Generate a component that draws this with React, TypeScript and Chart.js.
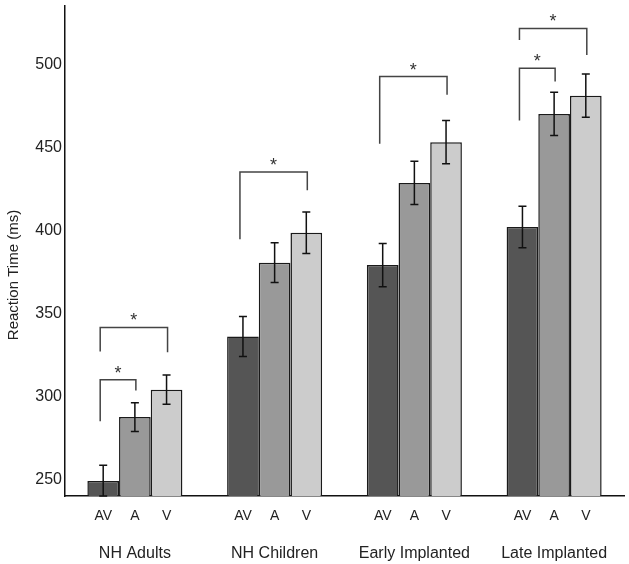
import React, { useEffect, useRef } from 'react';
import { Chart, registerables } from 'chart.js';

Chart.register(...registerables);

const groups = ['NH Adults', 'NH Children', 'Early Implanted', 'Late Implanted'];
const conditions = ['AV', 'A', 'V'];
const avMeans = [249, 336, 379, 402];
const aMeans = [287.5, 380.5, 428.5, 470];
const vMeans = [304, 398.5, 453, 481];
const avErrors = [9.5, 12, 13, 12.5];
const aErrors = [8.7, 12, 13, 13];
const vErrors = [8.8, 12.5, 13, 13];
const yTicks = [250, 300, 350, 400, 450, 500];
const yMin = 240;
const yMax = 535;
const yTitle = 'Reaction Time (ms)';

// significance brackets
const bracketGroup = [0, 0, 1, 2, 3, 3];
const bracketFrom = [0, 0, 0, 0, 0, 0];
const bracketTo = [1, 2, 2, 2, 1, 2];
const bracketLevel = [310, 341.5, 435, 492.5, 497.5, 521.5];
const bracketFromEnd = [285, 327, 394.5, 452, 466, 514.5];
const bracketToEnd = [303.5, 326.5, 424, 481.5, 489.5, 505.5];
const bracketMark = ['*', '*', '*', '*', '*', '*'];

const barColors = ['#555555', '#999999', '#cccccc'];
const FONT = '"Liberation Sans", Arial, Helvetica, sans-serif';

const overlay = {
  id: 'overlay',
  afterDatasetsDraw(chart: any) {
    const ctx = chart.ctx;
    const ys = chart.scales.y;
    const area = chart.chartArea;
    const means = [avMeans, aMeans, vMeans];
    const errs = [avErrors, aErrors, vErrors];
    ctx.save();
    // error bars
    ctx.strokeStyle = '#111111';
    ctx.lineWidth = 1.5;
    for (let d = 0; d < 3; d++) {
      const meta = chart.getDatasetMeta(d);
      meta.data.forEach((el: any, i: number) => {
        const top = ys.getPixelForValue(means[d][i] + errs[d][i]);
        const bot = Math.min(ys.getPixelForValue(means[d][i] - errs[d][i]), area.bottom);
        ctx.beginPath();
        ctx.moveTo(el.x, top);
        ctx.lineTo(el.x, bot);
        ctx.moveTo(el.x - 4, top);
        ctx.lineTo(el.x + 4, top);
        ctx.moveTo(el.x - 4, bot);
        ctx.lineTo(el.x + 4, bot);
        ctx.stroke();
      });
    }
    // brackets
    ctx.strokeStyle = '#444444';
    ctx.lineWidth = 1.5;
    ctx.fillStyle = '#333333';
    ctx.font = `18px ${FONT}`;
    ctx.textAlign = 'center';
    ctx.textBaseline = 'alphabetic';
    for (let k = 0; k < bracketGroup.length; k++) {
      const g = bracketGroup[k];
      const x1 = chart.getDatasetMeta(bracketFrom[k]).data[g].x - 3;
      const x2 = chart.getDatasetMeta(bracketTo[k]).data[g].x + 1;
      const yl = ys.getPixelForValue(bracketLevel[k]);
      const y1 = ys.getPixelForValue(bracketFromEnd[k]);
      const y2 = ys.getPixelForValue(bracketToEnd[k]);
      ctx.beginPath();
      ctx.moveTo(x1, y1);
      ctx.lineTo(x1, yl);
      ctx.lineTo(x2, yl);
      ctx.lineTo(x2, y2);
      ctx.stroke();
      ctx.fillText(bracketMark[k], (x1 + x2) / 2, yl - 1);
    }
    // x labels
    ctx.fillStyle = '#222222';
    ctx.textBaseline = 'middle';
    ctx.font = `14px ${FONT}`;
    for (let d = 0; d < 3; d++) {
      const meta = chart.getDatasetMeta(d);
      meta.data.forEach((el: any) => {
        ctx.fillText(conditions[d], el.x, area.bottom + 20);
      });
    }
    ctx.font = `16px ${FONT}`;
    const xs = chart.scales.x;
    groups.forEach((g, i) => {
      ctx.fillText(g, xs.getPixelForValue(i), area.bottom + 58);
    });
    // y title
    ctx.font = `15px ${FONT}`;
    ctx.translate(14, (area.top + area.bottom) / 2 + 24);
    ctx.rotate(-Math.PI / 2);
    ctx.fillText(yTitle, 0, 0);
    ctx.restore();
  },
};

export default function App() {
  const ref = useRef<HTMLCanvasElement>(null);
  useEffect(() => {
    if (!ref.current) return;
    const chart = new Chart(ref.current, {
      type: 'bar',
      data: {
        labels: groups,
        datasets: [avMeans, aMeans, vMeans].map((vals, d) => ({
          label: conditions[d],
          data: vals,
          backgroundColor: barColors[d],
          borderColor: '#1a1a1a',
          borderWidth: 1.5,
          borderSkipped: false,
          categoryPercentage: 0.68,
          barPercentage: 1.0,
        })),
      },
      options: {
        responsive: false,
        animation: false,
        devicePixelRatio: 1,
        layout: { padding: { top: 6, right: 5, left: 0, bottom: 0 } },
        plugins: { legend: { display: false }, tooltip: { enabled: false } },
        scales: {
          x: {
            grid: { display: false, drawTicks: false },
            border: { display: true, color: '#111111', width: 1.5 },
            ticks: { display: false },
            afterFit: (s: any) => {
              s.height = 68;
              s.paddingLeft = 0;
              s.paddingRight = 0;
            },
          },
          y: {
            min: yMin,
            max: yMax,
            grid: { display: false, drawTicks: false },
            border: { display: true, color: '#111111', width: 1.5 },
            afterBuildTicks: (s: any) => {
              s.ticks = yTicks.map((v) => ({ value: v }));
            },
            ticks: {
              padding: 3,
              color: '#222222',
              font: { family: FONT, size: 16 },
            },
            afterFit: (s: any) => {
              s.width = 65;
              s.paddingTop = 0;
              s.paddingBottom = 0;
            },
          },
        },
      },
      plugins: [overlay],
    });
    return () => chart.destroy();
  }, []);
  return (
    <div style={{ position: 'fixed', left: 0, top: 0, width: 629, height: 564, background: '#fff' }}>
      <canvas ref={ref} width={629} height={564} style={{ width: 629, height: 564, display: 'block' }} />
    </div>
  );
}
